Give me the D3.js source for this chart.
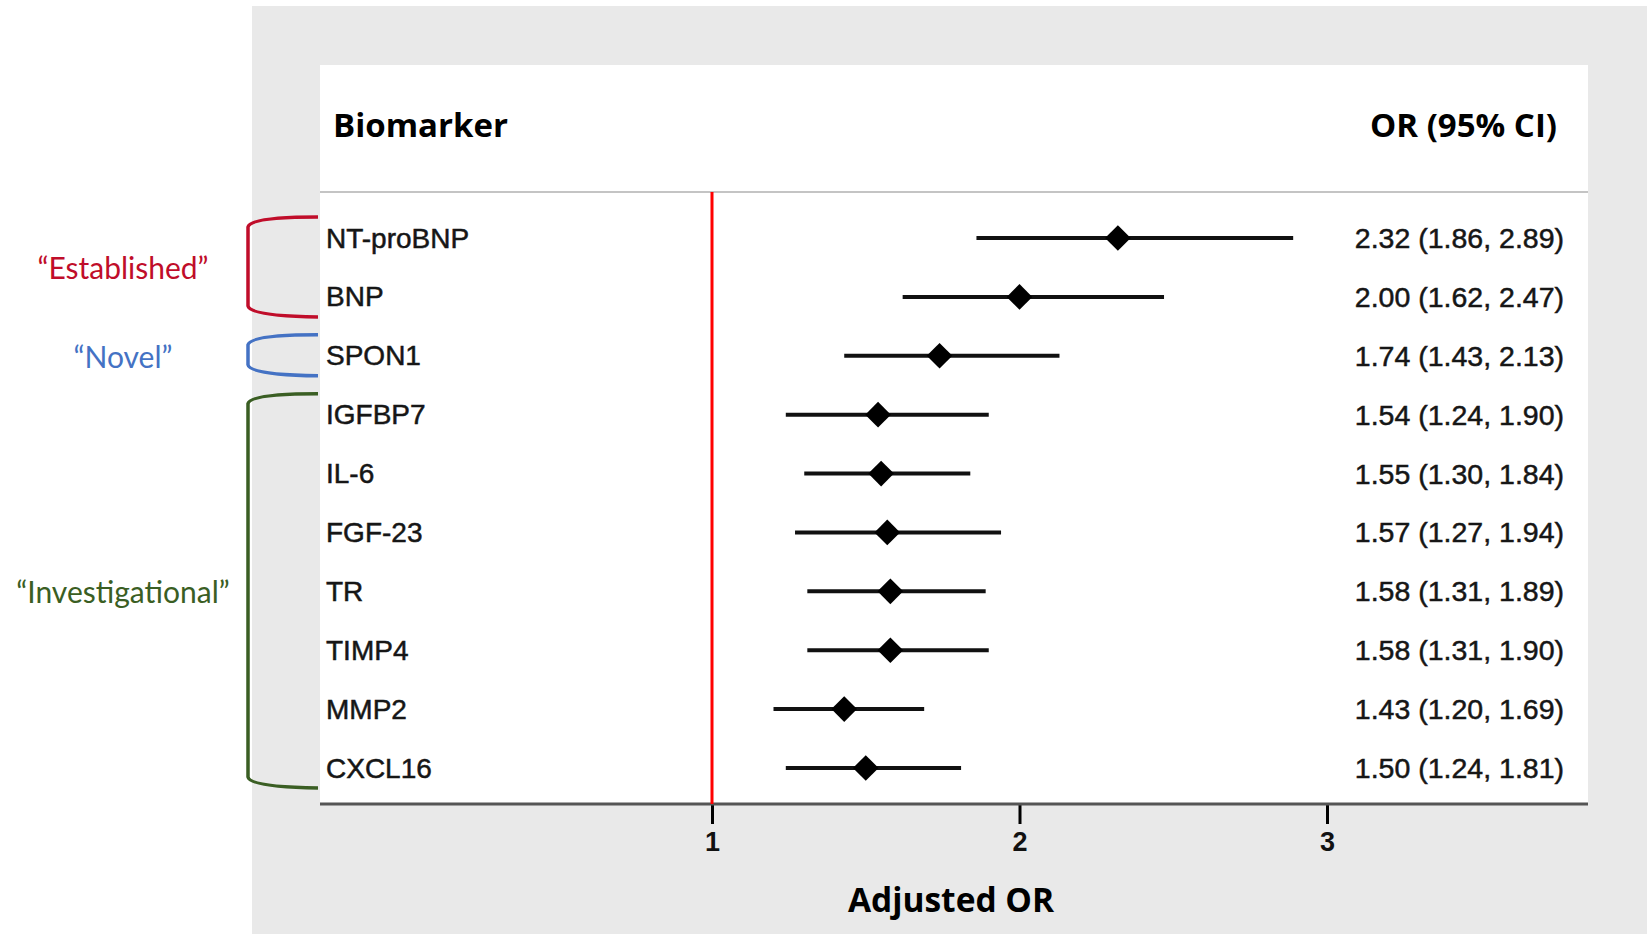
<!DOCTYPE html>
<html>
<head>
<meta charset="utf-8">
<script src="https://cdn.jsdelivr.net/npm/d3@7"></script>
<style>
  body { margin: 0; background: #fff; }
  svg { display: block; }
</style>
</head>
<body>
<svg width="1647" height="934"></svg>
<script>
// data
var biomarkers = ["NT-proBNP", "BNP", "SPON1", "IGFBP7", "IL-6", "FGF-23", "TR", "TIMP4", "MMP2", "CXCL16"];
var oddsRatio  = [2.32, 2.00, 1.74, 1.54, 1.55, 1.57, 1.58, 1.58, 1.43, 1.50];
var ciLower    = [1.86, 1.62, 1.43, 1.24, 1.30, 1.27, 1.31, 1.31, 1.20, 1.24];
var ciUpper    = [2.89, 2.47, 2.13, 1.90, 1.84, 1.94, 1.89, 1.90, 1.69, 1.81];
var xTicks     = [1, 2, 3];

// groups shown by the brackets on the left
var groupLabels = ["\u201cEstablished\u201d", "\u201cNovel\u201d", "\u201cInvestigational\u201d"];
var groupFirst  = ["NT-proBNP", "SPON1", "IGFBP7"];
var groupLast   = ["BNP", "SPON1", "CXCL16"];
var groupColors = ["#c00d2a", "#4472c4", "#3a5e23"];

var svg = d3.select("svg"),
    width = +svg.attr("width"),
    height = +svg.attr("height");

var rows = biomarkers.map(function(d, i) {
  return { name: d, or: oddsRatio[i], lo: ciLower[i], hi: ciUpper[i] };
});

// gray backdrop and white plot panel
svg.append("rect").attr("x", 252).attr("y", 6).attr("width", width - 252).attr("height", height - 6)
    .attr("fill", "#e9e9e9");
var panel = { left: 320, right: 1588, top: 65, header: 192, bottom: 804 };
svg.append("rect").attr("x", panel.left).attr("y", panel.top)
    .attr("width", panel.right - panel.left).attr("height", panel.bottom - panel.top)
    .attr("fill", "#fff");

var x = d3.scaleLinear().domain([1, 3]).range([712, 1327]);
var y = d3.scalePoint().domain(biomarkers).range([238, 768]);

var headFont = "'Open Sans', sans-serif",
    bodyFont = "'Liberation Sans', Arial, sans-serif";

// header
svg.append("text").attr("x", 333).attr("y", 124)
    .attr("dominant-baseline", "central")
    .style("font-family", headFont).style("font-weight", "bold").style("font-size", "33px")
    .text("Biomarker");
svg.append("text").attr("x", 1557).attr("y", 124)
    .attr("dominant-baseline", "central").attr("text-anchor", "end")
    .style("font-family", headFont).style("font-weight", "bold").style("font-size", "33px")
    .text("OR (95% CI)");
svg.append("line").attr("x1", panel.left).attr("x2", panel.right)
    .attr("y1", panel.header).attr("y2", panel.header)
    .style("stroke", "#c4c4c4").style("stroke-width", 2);

// axis
var axis = svg.append("g").attr("transform", "translate(0," + panel.bottom + ")")
    .call(d3.axisBottom(x).tickValues(xTicks).tickFormat(d3.format("d")).tickSize(20).tickPadding(8));
axis.select(".domain").remove();
axis.selectAll(".tick line").style("stroke", "#000").style("stroke-width", 3);
axis.selectAll(".tick text")
    .style("font-family", bodyFont)
    .style("font-weight", "bold").style("font-size", "27px").style("fill", "#111");
svg.append("line").attr("x1", panel.left).attr("x2", panel.right)
    .attr("y1", panel.bottom).attr("y2", panel.bottom)
    .style("stroke", "#555").style("stroke-width", 3);

svg.append("text").attr("x", 951).attr("y", 899)
    .attr("dominant-baseline", "central").attr("text-anchor", "middle")
    .style("font-family", headFont).style("font-weight", "bold").style("font-size", "33.5px")
    .text("Adjusted OR");

// reference line at OR = 1
svg.append("line").attr("x1", x(1)).attr("x2", x(1))
    .attr("y1", panel.header).attr("y2", panel.bottom)
    .style("stroke", "#ff0000").style("stroke-width", 3);

// rows
var row = svg.append("g").selectAll("g")
    .data(rows)
    .enter()
    .append("g")
    .attr("transform", function(d) { return "translate(0," + y(d.name) + ")"; });

row.append("text")
    .attr("x", 326).attr("dominant-baseline", "central")
    .style("font-family", bodyFont).style("font-size", "28px").style("fill", "#161616")
    .style("stroke", "#161616").style("stroke-width", 0.5)
    .text(function(d) { return d.name; });

row.append("line")
    .attr("x1", function(d) { return x(d.lo); })
    .attr("x2", function(d) { return x(d.hi); })
    .style("stroke", "#111").style("stroke-width", 4);

row.append("path")
    .attr("d", d3.symbol().type(d3.symbolDiamond2).size(420))
    .attr("transform", function(d) { return "translate(" + x(d.or) + ",0)"; })
    .style("fill", "#000");

row.append("text")
    .attr("x", 1564).attr("text-anchor", "end").attr("dominant-baseline", "central")
    .style("font-family", bodyFont).style("font-size", "28.5px").style("fill", "#161616")
    .style("stroke", "#161616").style("stroke-width", 0.5)
    .text(function(d) { return d.or.toFixed(2) + " (" + d.lo.toFixed(2) + ", " + d.hi.toFixed(2) + ")"; });

// group brackets
groupLabels.forEach(function(label, i) {
  var top = y(groupFirst[i]) - 21,
      bot = y(groupLast[i]) + 19,
      r = 248, e = 318;
  svg.append("path")
      .attr("d", "M" + e + "," + top + " Q" + (r + 2) + "," + top + " " + r + "," + (top + 10) +
                 " L" + r + "," + (bot - 10) +
                 " Q" + (r + 2) + "," + bot + " " + e + "," + (bot + 1))
      .style("fill", "none").style("stroke", groupColors[i]).style("stroke-width", 3.5);
  svg.append("text")
      .attr("x", 123).attr("y", (y(groupFirst[i]) + y(groupLast[i])) / 2)
      .attr("text-anchor", "middle").attr("dominant-baseline", "central")
      .style("font-family", "Lato, sans-serif").style("font-size", "30px").style("fill", groupColors[i])
      .text(label);
});
</script>
</body>
</html>
